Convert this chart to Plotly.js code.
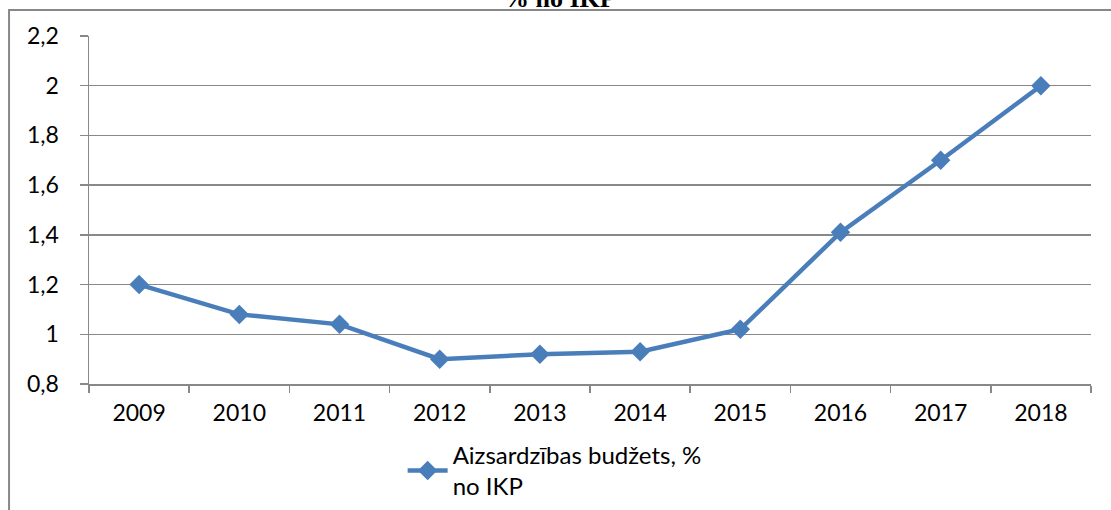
<!DOCTYPE html>
<html><head><meta charset="utf-8">
<script src="https://cdn.plot.ly/plotly-3.0.1.min.js"></script>
<style>html,body{margin:0;padding:0;background:#fff;}#chart{width:1111px;height:510px;}</style>
</head><body><div id="chart"></div>
<script>
const years = ['2009','2010','2011','2012','2013','2014','2015','2016','2017','2018'];
const budget = [1.2, 1.08, 1.04, 0.9, 0.92, 0.93, 1.02, 1.41, 1.7, 2.0];
const seriesName = 'Aizsardzības budžets, %<br>no IKP';
const titleText = '% no IKP';

const gray = '#888888';
const font = 'Lato, "Open Sans", "Liberation Sans", sans-serif';

const trace = {
  x: years, y: budget, type: 'scatter', mode: 'lines+markers', name: seriesName,
  line: {color: '#4a7ebb', width: 4.5},
  marker: {symbol: 'diamond', size: 15, color: '#4a7ebb'}
};

const layout = {
  width: 1111, height: 510,
  margin: {l: 89, r: 20, t: 36, b: 126, autoexpand: false},
  paper_bgcolor: '#fff', plot_bgcolor: '#fff',
  separators: ', ',
  font: {family: font, size: 23, color: '#000'},
  showlegend: true,
  legend: {x: 0.313, y: -0.14, xanchor: 'left', yanchor: 'top', orientation: 'v',
           font: {family: font, size: 24, color: '#000'}, bgcolor: 'rgba(0,0,0,0)', itemwidth: 40},
  xaxis: {type: 'category', range: [-0.5, 9.5], tickson: 'boundaries', ticks: 'outside', ticklen: 7,
          tickcolor: gray, tickwidth: 1.5, showline: true, linecolor: gray, linewidth: 1.5,
          showgrid: false, zeroline: false, fixedrange: true, ticklabelstandoff: 8,
          tickfont: {family: font, size: 23, color: '#000'}},
  yaxis: {range: [0.8, 2.2], dtick: 0.2, tick0: 0.8, ticks: 'outside', ticklen: 8, tickcolor: gray, tickwidth: 1.5,
          showline: true, linecolor: gray, linewidth: 1.5, showgrid: true, gridcolor: gray, gridwidth: 1.5,
          zeroline: false, fixedrange: true, ticklabelstandoff: 16,
          tickfont: {family: font, size: 23, color: '#000'}},
  shapes: [{type: 'rect', xref: 'paper', yref: 'paper', x0: -0.0798, x1: 1.05, y0: -0.5, y1: 1.0747,
            line: {color: gray, width: 2}, fillcolor: 'rgba(0,0,0,0)', layer: 'below'}],
  annotations: [{text: '<b>' + titleText + '</b>', xref: 'paper', yref: 'paper', x: 0.47, y: 1.06,
                 xanchor: 'center', yanchor: 'bottom', showarrow: false,
                 font: {family: '"Liberation Serif", "Times New Roman", serif', size: 26, color: '#000'}}]
};

Plotly.newPlot('chart', [trace], layout, {displayModeBar: false, staticPlot: true});
</script></body></html>
